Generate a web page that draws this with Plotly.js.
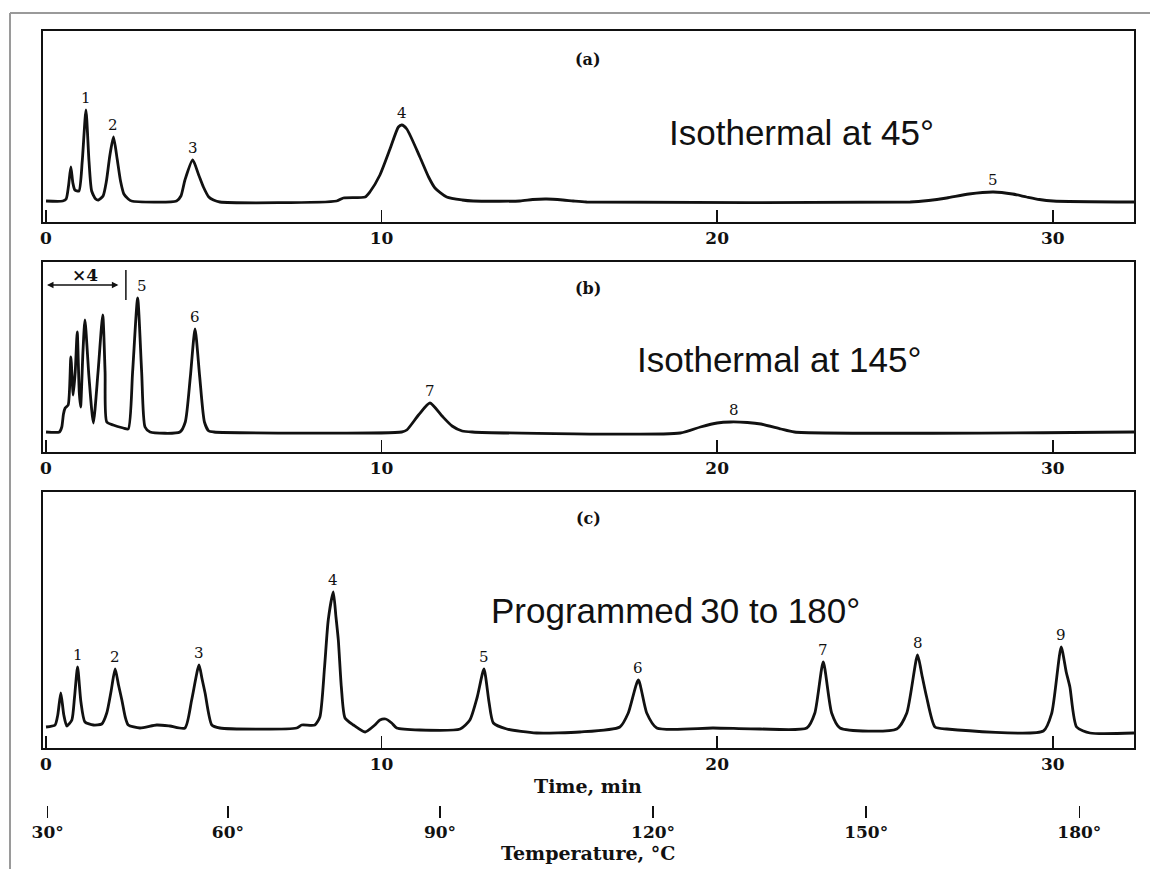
<!DOCTYPE html>
<html>
<head>
<meta charset="utf-8">
<script src="https://cdn.plot.ly/plotly-3.0.1.min.js"></script>
<style>
  html, body { margin: 0; padding: 0; background: #ffffff; }
  #chart { width: 1150px; height: 869px; }
</style>
</head>
<body>
<div id="chart"></div>
<script>
// ---------- Data (time in min, detector response in arbitrary units) ----------
// (a) Isothermal at 45°
const timeA = [0, 0.5, 0.6, 0.67, 0.74, 0.8, 0.86, 0.98, 1.08, 1.19, 1.28, 1.36, 1.48, 1.56, 1.7, 1.8, 1.9, 2.01, 2.12, 2.22, 2.32, 2.45, 2.55, 3.89, 4.02, 4.14, 4.37, 4.55, 4.69, 4.85, 4.99, 5.18, 8.66, 8.86, 9.51, 9.65, 9.95, 10.25, 10.5, 10.6, 10.75, 11.14, 11.4, 11.59, 11.94, 12.4, 12.73, 14.12, 14.5, 14.92, 15.4, 15.71, 16.11, 25.75, 26.3, 26.84, 27.5, 28.23, 28.8, 29.22, 29.6, 30.01, 32.42];
const respA = [0, 0, 2, 15, 34, 18, 11, 10, 40, 91, 40, 10, 2, 1, 5, 20, 45, 64, 42, 20, 7, 2, 0, 0, 5, 21, 41, 26, 14, 4, 1, -1, 0, 3, 4, 9, 26, 52, 74, 76, 72, 44, 24, 13, 4, 1, 0, 0, 1.5, 2, 1, 0, -1, -1, 0.5, 3, 7, 9, 7, 4, 1.5, 0, -1];

// (b) Isothermal at 145°
const timeB = [0, 0.4, 0.47, 0.52, 0.57, 0.66, 0.74, 0.81, 0.87, 0.93, 0.99, 1.03, 1.1, 1.16, 1.28, 1.41, 1.55, 1.69, 1.76, 1.81, 2.0, 2.3, 2.45, 2.58, 2.73, 2.85, 2.95, 3.1, 3.99, 4.15, 4.3, 4.44, 4.58, 4.72, 4.85, 5.0, 10.6, 10.75, 11.1, 11.44, 11.8, 12.1, 12.4, 12.7, 18.9, 19.5, 20.0, 20.4, 20.9, 21.3, 21.9, 22.3, 32.42];
const respB = [0, 0, 5, 18, 24, 27, 75, 37, 60, 100, 40, 25, 80, 112, 55, 9, 60, 117, 60, 10, 7, 4, 3, 60, 134, 60, 5, 0, 0, 10, 55, 103, 55, 10, 1, 0, 0, 2, 17, 29, 16, 6, 1, 0, -1, 5, 9, 10, 9.5, 8, 3, 0, 0];

// (c) Programmed 30 to 180°
const timeC = [0, 0.27, 0.35, 0.44, 0.53, 0.62, 0.77, 0.85, 0.94, 1.04, 1.16, 1.41, 1.66, 1.81, 1.94, 2.06, 2.16, 2.26, 2.36, 2.45, 2.8, 3.3, 3.69, 4.14, 4.34, 4.56, 4.65, 4.74, 4.94, 5.18, 7.47, 7.62, 8.01, 8.16, 8.3, 8.41, 8.56, 8.64, 8.71, 8.8, 8.91, 9.16, 9.51, 9.8, 9.95, 10.12, 10.3, 10.45, 11.14, 12.34, 12.63, 12.85, 13.05, 13.2, 13.33, 13.73, 14.62, 15.91, 17.1, 17.35, 17.65, 17.9, 18.2, 19.88, 21.28, 22.67, 22.91, 23.16, 23.41, 23.66, 25.35, 25.65, 25.97, 26.1, 26.24, 26.49, 26.84, 29.72, 29.97, 30.25, 30.4, 30.51, 30.71, 31.11, 32.42];
const respC = [0, 2, 12, 34, 12, 1, 7, 30, 60, 25, 5, 2, 3, 14, 36, 58, 42, 27, 10, 2, -1, 2, 1, -1, 27, 62, 48, 34, 2, -1, -1, 2, 2, 10, 60, 107, 135, 110, 87, 40, 9, 2, -5, 2, 7, 8, 4, -1, -3, -2, 7, 30, 58, 25, 4, -2, -6, -5, 0, 14, 47, 14, -1, -1, -2, -1, 14, 65, 14, -1, -2, 14, 72, 52, 30, 0, -2, -4, 14, 80, 55, 40, 0, -6, -6];

// Peak labels (apex time, apex response, label)
const peaksA = {t: [1.19, 2.01, 4.37, 10.6, 28.23], r: [91, 64, 41, 76, 9], label: ['1', '2', '3', '4', '5']};
const peaksB = {t: [2.85, 4.44, 11.44, 20.5], r: [134, 103, 29, 10], label: ['5', '6', '7', '8']};
const peaksC = {t: [0.94, 2.06, 4.56, 8.56, 13.05, 17.65, 23.16, 25.97, 30.25], r: [60, 58, 62, 135, 58, 47, 65, 72, 80], label: ['1', '2', '3', '4', '5', '6', '7', '8', '9']};

// Axis ticks
const timeTicks = [0, 10, 20, 30];
const timeTickLabels = ['0', '10', '20', '30'];
const tempTickTimes = [0.05, 5.42, 11.74, 18.09, 24.44, 30.79];
const tempTickLabels = ['30°', '60°', '90°', '120°', '150°', '180°'];

const panelTitles = ['(a)', '(b)', '(c)'];
const conditionTexts = ['Isothermal at 45°', 'Isothermal at 145°', 'Programmed\u200930 to 180°'];

// ---------- Layout ----------
const W = 1150, H = 869;
const px = v => v / W;
const py = v => 1 - v / H;

const lineStyle = {color: '#111111', width: 2.8};
const serif = 'DejaVu Serif, Liberation Serif, serif';

function trace(x, y, xa, ya) {
  return {x: x, y: y, xaxis: xa, yaxis: ya, type: 'scatter', mode: 'lines',
          line: Object.assign({shape: 'spline', smoothing: 0.6}, lineStyle), hoverinfo: 'skip', showlegend: false};
}

const data = [
  trace(timeA, respA, 'x', 'y'),
  trace(timeB, respB, 'x2', 'y2'),
  trace(timeC, respC, 'x3', 'y3'),
  {x: [null], y: [null], xaxis: 'x4', yaxis: 'y4', type: 'scatter', mode: 'lines', showlegend: false, hoverinfo: 'skip'}
];

const xDomain = [px(43), px(1134)];
const xRange = [-0.09, 32.42];

const tickFont = {family: serif, size: 17, color: '#111111', weight: 'bold'};

function timeAxis(anchor) {
  return {
    domain: xDomain, range: xRange, anchor: anchor,
    showline: true, mirror: true, linewidth: 2, linecolor: '#111111',
    ticks: 'inside', ticklen: 12, tickwidth: 1.5, tickcolor: '#111111',
    tickvals: timeTicks, ticktext: timeTickLabels,
    tickfont: tickFont,
    showgrid: false, zeroline: false, fixedrange: true
  };
}
function respAxis(anchor, top, bottom, range) {
  return {
    domain: [py(bottom), py(top)], range: range, anchor: anchor,
    showline: true, mirror: true, linewidth: 2, linecolor: '#111111',
    showticklabels: false, ticks: '', showgrid: false, zeroline: false, fixedrange: true
  };
}

const annotations = [];
function addPeakLabels(p, xa, ya) {
  p.t.forEach((t, i) => {
    annotations.push({x: t, y: p.r[i], xref: xa, yref: ya, text: p.label[i], showarrow: false,
      xanchor: 'center', yanchor: 'bottom', yshift: 1, font: {family: serif, size: 15, color: '#111111'}});
  });
}
addPeakLabels(peaksA, 'x', 'y');
addPeakLabels(peaksB, 'x2', 'y2');
addPeakLabels(peaksC, 'x3', 'y3');

function paperText(x, y, text, font) {
  annotations.push({x: px(x), y: py(y), xref: 'paper', yref: 'paper', text: text, showarrow: false,
    xanchor: 'center', yanchor: 'middle', font: font});
}
// panel letters
[[60, panelTitles[0]], [288, panelTitles[1]], [518, panelTitles[2]]].forEach(([y, t]) => {
  paperText(588, y, t, {family: serif, size: 16, color: '#111111', weight: 'bold'});
});
// condition texts
[[802, 133], [779, 360], [675, 610]].forEach(([x, y], i) => {
  paperText(x, y, conditionTexts[i], {family: 'Liberation Sans, Arial, sans-serif', size: 35, color: '#111111'});
});
// ×4 marker on panel (b)
annotations.push({x: 0.03, y: 147, xref: 'x2', yref: 'y2', ax: 2.2, ay: 147, axref: 'x2', ayref: 'y2',
  text: '', showarrow: true, arrowside: 'end+start', arrowhead: 2, arrowsize: 1, arrowwidth: 1.3, arrowcolor: '#111111'});
annotations.push({x: 1.16, y: 157, xref: 'x2', yref: 'y2', text: '×4', showarrow: false,
  xanchor: 'center', yanchor: 'middle', font: {family: serif, size: 17, color: '#111111', weight: 'bold'}});
// axis titles
paperText(588, 786, 'Time, min', {family: serif, size: 19, color: '#111111', weight: 'bold'});
paperText(588, 853, 'Temperature, °C', {family: serif, size: 19, color: '#111111', weight: 'bold'});

const shapes = [
  // outer frame of the figure
  {type: 'line', xref: 'paper', yref: 'paper', x0: px(10), x1: 1, y0: py(13), y1: py(13), line: {color: '#9a9a9a', width: 2}},
  {type: 'line', xref: 'paper', yref: 'paper', x0: px(10), x1: px(10), y0: py(13), y1: 0, line: {color: '#9a9a9a', width: 2}},
  // bar closing the ×4 range
  {type: 'line', xref: 'x2', yref: 'y2', x0: 2.38, x1: 2.38, y0: 132, y1: 162, line: {color: '#111111', width: 1.5}}
];

const layout = {
  width: W, height: H,
  margin: {l: 0, r: 0, t: 0, b: 0},
  paper_bgcolor: '#ffffff', plot_bgcolor: '#ffffff',
  showlegend: false,
  xaxis: timeAxis('y'),
  xaxis2: timeAxis('y2'),
  xaxis3: timeAxis('y3'),
  yaxis: respAxis('x', 31, 222, [-21, 170]),
  yaxis2: respAxis('x2', 262, 452, [-20, 170]),
  yaxis3: respAxis('x3', 492, 748, [-21, 235]),
  xaxis4: {
    domain: xDomain, range: xRange, anchor: 'y4',
    showline: false, ticks: 'outside', ticklen: 12, tickwidth: 1.5, tickcolor: '#111111',
    tickvals: tempTickTimes, ticktext: tempTickLabels,
    tickfont: tickFont,
    showgrid: false, zeroline: false, fixedrange: true
  },
  yaxis4: {domain: [py(805), py(800)], anchor: 'x4', visible: false, fixedrange: true},
  annotations: annotations,
  shapes: shapes
};

Plotly.newPlot('chart', data, layout, {displayModeBar: false, staticPlot: true});
</script>
</body>
</html>
